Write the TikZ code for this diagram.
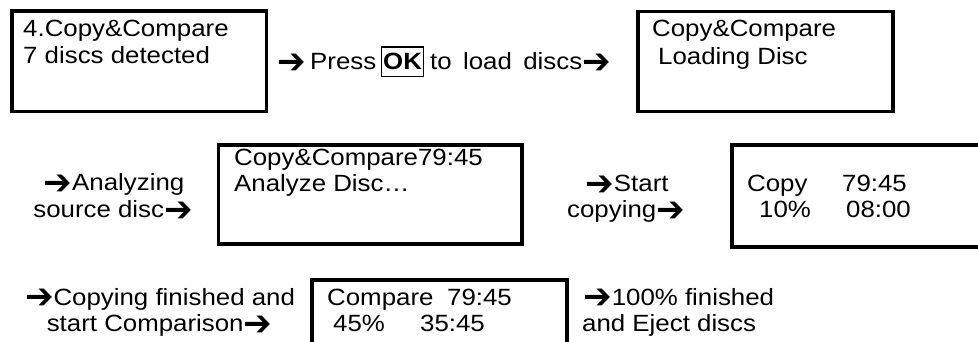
\documentclass[tikz,border=0pt]{standalone}
\usepackage{fontspec}
\setmainfont{Liberation Sans}[FakeStretch=1.1]
\newfontfamily\arrfont{DejaVu Sans}
\newcommand\rarr{\raisebox{-4pt}{\scalebox{1.45}[1.5]{\arrfont\symbol{"2794}}}}
\usetikzlibrary{calc}
\tikzset{
  lcd/.style={draw, line width=3.7pt, inner sep=0pt},
  txt/.style={inner sep=0pt, anchor=base west, font=\fontsize{23.5}{27}\selectfont},
  ctxt/.style={inner sep=0pt, anchor=base, font=\fontsize{23.5}{27}\selectfont},
  okbox/.style={draw, line width=1.3pt, inner xsep=1.5pt, inner ysep=1pt,
    text height=22pt, text depth=5.5pt, anchor=base west,
    font=\fontsize{23.5}{27}\selectfont\bfseries}
}
\begin{document}
\begin{tikzpicture}[x=1pt,y=-1pt]
\useasboundingbox (0,0) rectangle (978,342);
\clip (0,0) rectangle (978,342);
% screens
\node[lcd, minimum width=254.5pt, minimum height=100.5pt] (b1) at (139.25,61.25) {};
\node[lcd, minimum width=255pt, minimum height=100pt] (b2) at (765.5,61.5) {};
\node[lcd, minimum width=303.5pt, minimum height=98.4pt] (b3) at (370.25,194.5) {};
\node[lcd, minimum width=268pt, minimum height=102pt] (b4) at (866,196) {};
\node[lcd, minimum width=255pt, minimum height=99.4pt] (b5) at (439.5,330) {};
% screen 1
\node[txt] (t1a) at (23,37) {4.Copy\&Compare};
\node[txt] (t1b) at (23,63.5) {7 discs detected};
% press OK
\node[txt] (pr) at (277,70) {\rarr};
\node[txt] (pa) at (310,70) {Press};
\node[okbox] (ok) at (381,70) {OK};
\node[txt] (pb) at (430,70) {\makebox[152pt][s]{to load discs}\rarr};
% screen 2
\node[txt] (t2a) at (652,37) {Copy\&Compare};
\node[txt] (t2b) at (658,64.5) {Loading Disc};
% analyzing
\node[ctxt] (a2a) at (114,191) {\rarr Analyzing};
\node[ctxt] (a2b) at (113,217.5) {source disc\rarr};
% screen 3
\node[txt] (t3a) at (234,166) {Copy\&Compare79:45};
\node[txt] (t3b) at (234,192) {Analyze Disc\ldots};
% start copying
\node[ctxt] (a3a) at (627,192) {\rarr Start};
\node[ctxt] (a3b) at (626,218) {copying\rarr};
% screen 4
\node[txt] (t4a) at (747,192) {\makebox[95pt][l]{Copy}79:45};
\node[txt] (t4b) at (759,218) {\makebox[87pt][l]{10\%}08:00};
% comparison
\node[ctxt] (a4a) at (160,305) {\makebox[270pt][s]{\rarr Copying finished and}};
\node[ctxt] (a4b) at (159.5,331) {start Comparison\rarr};
% screen 5
\node[txt] (t5a) at (327,305) {\makebox[120pt][l]{Compare}79:45};
\node[txt] (t5b) at (333,331) {\makebox[87pt][l]{45\%}35:45};
% finished
\node[txt] (a5a) at (583,305) {\rarr 100\% finished};
\node[txt] (a5b) at (582,331) {and Eject discs};
\end{tikzpicture}
\end{document}
